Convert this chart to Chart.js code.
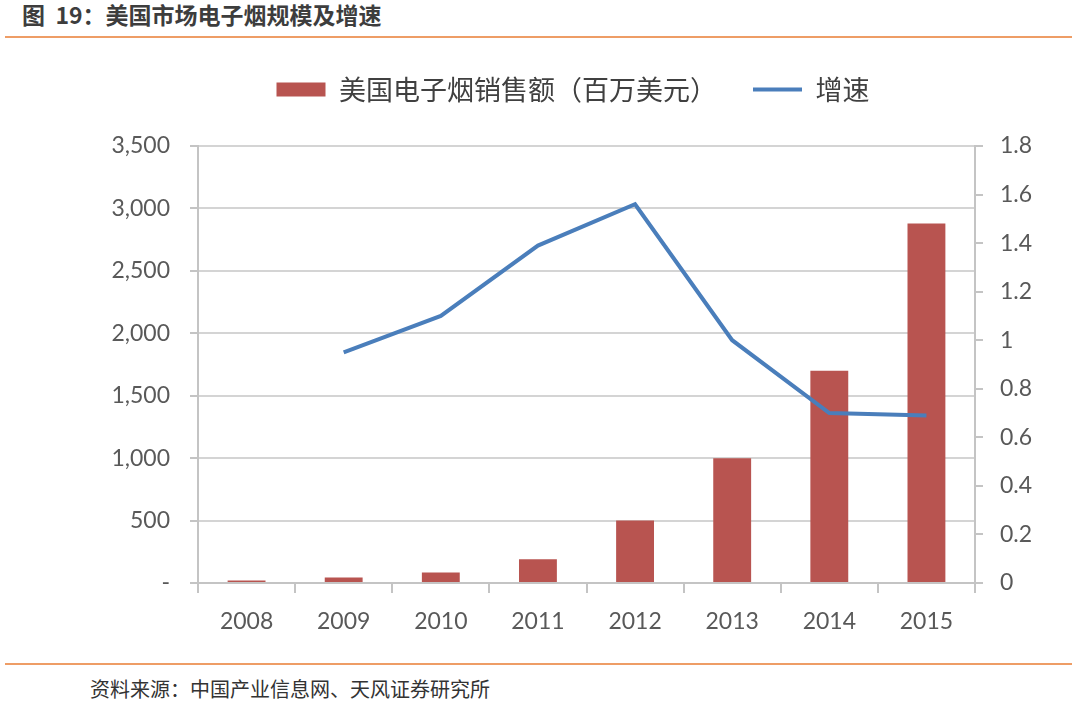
<!DOCTYPE html>
<html>
<head>
<meta charset="utf-8">
<script src="https://cdn.jsdelivr.net/npm/chart.js@4.4.1/dist/chart.umd.min.js"></script>
<style>
  html, body { margin: 0; padding: 0; background: #ffffff; }
  body { width: 1080px; height: 716px; position: relative; overflow: hidden; }
  #title { position: absolute; left: 22px; top: 1px; font-family: "Noto Sans CJK SC", sans-serif; font-weight: bold; font-size: 23px; color: #3d3d3d; white-space: pre; line-height: 26px; }
  .rule { position: absolute; left: 5px; width: 1067px; height: 2px; background: #EE9D66; }
  #source { position: absolute; left: 90px; top: 676px; font-family: "Noto Sans CJK SC", sans-serif; font-size: 20px; color: #333333; white-space: nowrap; line-height: 26px; }
  #wrap { position: absolute; left: 66px; top: 40px; width: 1014px; height: 610px; }
</style>
</head>
<body>
<div id="title">图  19：美国市场电子烟规模及增速</div>
<div class="rule" style="top:36px"></div>
<div id="wrap"><canvas id="c"></canvas></div>
<div class="rule" style="top:663px"></div>
<div id="source">资料来源：中国产业信息网、天风证券研究所</div>
<script>
// ---- data ----
const categories = ['2008', '2009', '2010', '2011', '2012', '2013', '2014', '2015'];
const salesValues = [20, 45, 85, 190, 500, 1000, 1700, 2880];
const growthValues = [null, 0.95, 1.10, 1.39, 1.56, 1.00, 0.70, 0.69];
const seriesNames = ['美国电子烟销售额（百万美元）', '增速'];
const leftAxisRange = [0, 3500, 500];
const rightAxisRange = [0, 1.8, 0.2];

const BAR_COLOR = '#B85450';
const LINE_COLOR = '#4A7EBB';
const GRID_COLOR = '#D4D4D4';
const AXIS_COLOR = '#C4C4C4';
const TICK_COLOR = '#595959';
const tickFont = { family: 'Lato, "Liberation Sans", sans-serif', size: 23 };

const legendSpacer = {
  id: 'legendSpacer',
  beforeLayout(chart) {
    const lg = chart.legend;
    if (lg && !lg._spacerPatched) {
      const orig = lg.fit;
      lg.fit = function () { orig.call(this); this.height += 33; };
      lg._spacerPatched = true;
    }
  }
};

new Chart(document.getElementById('c'), {
  data: {
    labels: categories,
    datasets: [
      {
        type: 'bar',
        label: seriesNames[0],
        data: salesValues,
        backgroundColor: BAR_COLOR,
        borderWidth: 0,
        barPercentage: 0.39,
        categoryPercentage: 1.0,
        yAxisID: 'y',
        order: 2
      },
      {
        type: 'line',
        label: seriesNames[1],
        data: growthValues,
        borderColor: LINE_COLOR,
        backgroundColor: LINE_COLOR,
        borderWidth: 4,
        pointRadius: 0,
        tension: 0,
        spanGaps: false,
        yAxisID: 'y1',
        order: 1
      }
    ]
  },
  options: {
    responsive: true,
    maintainAspectRatio: false,
    animation: false,
    devicePixelRatio: 1,
    layout: { padding: { top: 0, left: 0, right: 0, bottom: 0 } },
    plugins: {
      tooltip: { enabled: false },
      legend: {
        position: 'top',
        labels: {
          usePointStyle: true,
          pointStyleWidth: 49,
          boxHeight: 14,
          padding: 36,
          color: '#404040',
          font: { family: '"Noto Sans CJK SC", sans-serif', size: 27 },
          generateLabels(chart) {
            return chart.data.datasets.map((ds, i) => ({
              text: ds.label,
              datasetIndex: i,
              fillStyle: ds.type === 'line' ? ds.borderColor : ds.backgroundColor,
              strokeStyle: ds.type === 'line' ? ds.borderColor : ds.backgroundColor,
              lineWidth: ds.type === 'line' ? 4 : 0,
              pointStyle: ds.type === 'line' ? 'line' : 'rect',
              fontColor: '#404040',
              hidden: false
            }));
          }
        }
      }
    },
    scales: {
      x: {
        type: 'category',
        offset: true,
        grid: { display: true, offset: true, drawOnChartArea: false, drawTicks: true, tickLength: 10, color: AXIS_COLOR, lineWidth: 2 },
        border: { display: true, color: AXIS_COLOR, width: 2 },
        ticks: { color: TICK_COLOR, font: tickFont, padding: 15, maxRotation: 0 },
        afterFit(scale) { scale.height = 67; }
      },
      y: {
        type: 'linear',
        position: 'left',
        min: leftAxisRange[0],
        max: leftAxisRange[1],
        grid: { color: GRID_COLOR, lineWidth: 2, drawTicks: true, tickLength: 8, tickColor: AXIS_COLOR },
        border: { display: true, color: AXIS_COLOR, width: 2 },
        ticks: {
          stepSize: leftAxisRange[2],
          color: TICK_COLOR,
          font: tickFont,
          padding: 20,
          callback: v => v === 0 ? '-' : Number(v).toLocaleString('en-US')
        },
        afterFit(scale) { scale.width = 132; }
      },
      y1: {
        type: 'linear',
        position: 'right',
        min: rightAxisRange[0],
        max: rightAxisRange[1],
        grid: { drawOnChartArea: false, drawTicks: true, tickLength: 8, color: AXIS_COLOR, lineWidth: 2 },
        border: { display: true, color: AXIS_COLOR, width: 2 },
        ticks: {
          stepSize: rightAxisRange[2],
          color: TICK_COLOR,
          font: tickFont,
          padding: 17,
          callback: v => String(Number(Number(v).toFixed(1)))
        },
        afterFit(scale) { scale.width = 105; }
      }
    }
  },
  plugins: [legendSpacer]
});
</script>
</body>
</html>
